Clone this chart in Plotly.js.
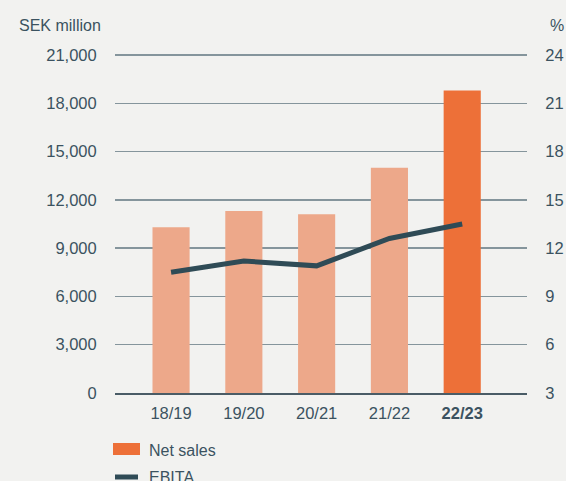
<!DOCTYPE html>
<html>
<head>
<meta charset="utf-8">
<script src="https://cdn.plot.ly/plotly-3.0.1.min.js"></script>
<style>html,body{margin:0;padding:0;background:#f2f2f0;}#chart{width:566px;height:481px;}</style>
</head>
<body>
<div id="chart"></div>
<script>
const categories = ['18/19', '19/20', '20/21', '21/22', '22/23'];
const netSales = [10300, 11300, 11100, 14000, 18800];
const ebita = [10.5, 11.2, 10.9, 12.6, 13.5];
const leftTicks = [0, 3000, 6000, 9000, 12000, 15000, 18000, 21000];
const rightTicks = [3, 6, 9, 12, 15, 18, 21, 24];
const tickText = ['18/19', '19/20', '20/21', '21/22', '<b>22/23</b>'];

const LIGHT = '#eda88a', DARK = '#ed7038', LINE = '#2f4b56', TXT = '#3b5260';
const barColors = categories.map((c, i) => i === categories.length - 1 ? DARK : LIGHT);
const FONT = 'Liberation Sans, Arial, sans-serif';

// plot area in px: x 115..527, y 52..393 (21,000 sits at y=55)
const W = 566, H = 481, L = 115, R = 527, T = 52, B = 393;
const EXTRA = 3 / (B - 55); // headroom fraction so top gridline is visible
const px = x => (x - L) / (R - L);
const py = y => (B - y) / (B - T);

const traces = [
  {
    type: 'bar', x: [0,1,2,3,4], y: netSales, name: 'Net sales',
    marker: {color: barColors, line: {width: 0}}, width: 0.51,
    showlegend: false, hoverinfo: 'skip'
  },
  {
    type: 'scatter', mode: 'lines', x: [0,1,2,3,4], y: ebita, yaxis: 'y2', name: 'EBITA',
    line: {color: LINE, width: 5}, showlegend: false, hoverinfo: 'skip'
  }
];

const layout = {
  width: W, height: H,
  margin: {l: L, r: W - R, t: T, b: H - B, pad: 0},
  paper_bgcolor: '#f2f2f0', plot_bgcolor: '#f2f2f0',
  font: {family: FONT, size: 16.5, color: TXT},
  xaxis: {
    range: [-0.77, 4.89], tickmode: 'array', tickvals: [0,1,2,3,4], ticktext: tickText,
    showgrid: false, zeroline: false, showline: true, linecolor: '#4a5c66', linewidth: 1.5,
    ticks: 'outside', ticklen: 5, tickcolor: 'rgba(0,0,0,0)', fixedrange: true
  },
  yaxis: {
    range: [0, 21000 * (1 + EXTRA)], tickmode: 'array', tickvals: leftTicks,
    ticktext: leftTicks.map(v => v.toLocaleString('en-US')),
    showgrid: true, gridcolor: '#85959c', gridwidth: 1.3, zeroline: false, showline: false,
    ticks: 'outside', ticklen: 14, tickcolor: 'rgba(0,0,0,0)', fixedrange: true
  },
  yaxis2: {
    range: [3, 3 + 21 * (1 + EXTRA)], tickmode: 'array', tickvals: rightTicks, overlaying: 'y', side: 'right',
    showgrid: false, zeroline: false, showline: false,
    ticks: 'outside', ticklen: 14, tickcolor: 'rgba(0,0,0,0)', fixedrange: true
  },
  annotations: [
    {text: 'SEK million', xref: 'paper', yref: 'paper', x: px(17), y: py(25), xanchor: 'left', yanchor: 'middle', showarrow: false, font: {size: 16, color: TXT}},
    {text: '%', xref: 'paper', yref: 'paper', x: px(566), y: py(25), xanchor: 'right', yanchor: 'middle', showarrow: false, font: {size: 16, color: TXT}},
    {text: 'Net sales', xref: 'paper', yref: 'paper', x: px(147), y: py(450), xanchor: 'left', yanchor: 'middle', showarrow: false, font: {size: 16, color: TXT}},
    {text: 'EBITA', xref: 'paper', yref: 'paper', x: px(147), y: py(477), xanchor: 'left', yanchor: 'middle', showarrow: false, font: {size: 16, color: TXT}}
  ],
  shapes: [
    {type: 'rect', xref: 'paper', yref: 'paper', x0: px(113), x1: px(140), y0: py(443), y1: py(455), fillcolor: DARK, line: {width: 0}},
    {type: 'line', xref: 'paper', yref: 'paper', x0: px(115), x1: px(138), y0: py(477), y1: py(477), line: {color: LINE, width: 5}}
  ]
};

Plotly.newPlot('chart', traces, layout, {staticPlot: true, displayModeBar: false});
</script>
</body>
</html>
